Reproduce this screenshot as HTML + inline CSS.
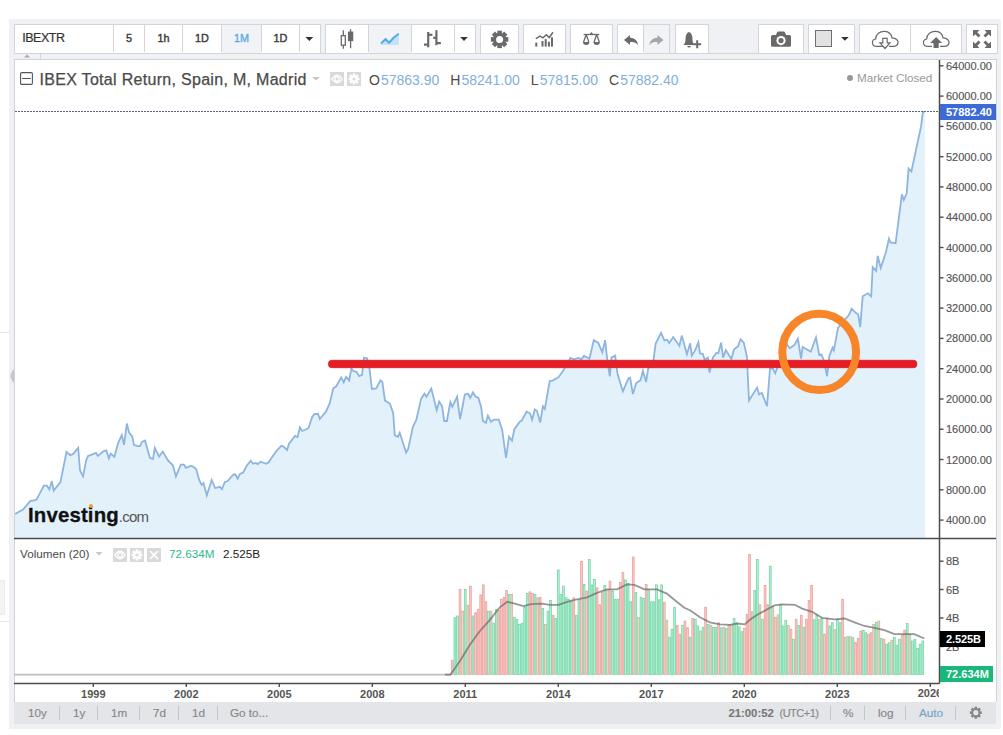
<!DOCTYPE html>
<html><head><meta charset="utf-8">
<style>
html,body{margin:0;padding:0;width:1003px;height:735px;overflow:hidden;background:#fff;font-family:"Liberation Sans",sans-serif;}
.abs{position:absolute;}
#frame{position:absolute;left:9px;top:19px;width:992px;height:710px;background:#f0f1f4;}
.btn{position:absolute;top:24px;height:28px;background:#fff;border:1px solid #d2d5da;box-sizing:content-box;}
.bi{position:absolute;top:24px;height:28px;border-left:1px solid #d2d5da;}
.tt{position:absolute;top:24px;height:29px;line-height:29px;text-align:center;font-size:10.8px;color:#3a3a3a;font-weight:normal;-webkit-text-stroke:0.4px #3a3a3a;}
#chart{position:absolute;left:14px;top:59px;width:983px;height:643px;background:#fff;border-left:1px solid #cfd2d7;border-top:1px solid #cfd2d7;border-right:1px solid #cfd2d7;box-sizing:border-box;}
.pl{position:absolute;left:946px;font-size:11px;line-height:14px;color:#555;white-space:nowrap;-webkit-text-stroke:0.15px #555;}
.yl{position:absolute;top:687px;width:40px;text-align:center;font-size:11px;line-height:14px;font-weight:bold;color:#555;}
#bottom{position:absolute;left:14px;top:702px;width:982px;height:22px;background:#e3e5e8;}
.bt{position:absolute;top:702px;height:22px;line-height:22px;font-size:11.7px;color:#878787;white-space:nowrap;-webkit-text-stroke:0.15px #878787;}
.sep{position:absolute;top:706px;width:1px;height:14px;background:#c2c5ca;}
</style></head><body>
<div id="frame"></div>

<!-- toolbar -->
<div class="btn" style="left:14px;width:305px;"></div>
<div class="abs" style="left:222px;top:25px;width:39px;height:28px;background:#f1f3f6;"></div>
<div class="bi" style="left:113px;"></div>
<div class="bi" style="left:144px;"></div>
<div class="bi" style="left:182px;"></div>
<div class="bi" style="left:221px;"></div>
<div class="bi" style="left:261px;"></div>
<div class="bi" style="left:299px;"></div>
<div class="tt" style="left:22.3px;text-align:left;font-size:12.5px;letter-spacing:-0.5px;color:#333;-webkit-text-stroke:0.2px #333;">IBEXTR</div>
<div class="tt" style="left:114px;width:30px;">5</div>
<div class="tt" style="left:145px;width:37px;">1h</div>
<div class="tt" style="left:183px;width:38px;">1D</div>
<div class="tt" style="left:222px;width:39px;color:#5aaee0;-webkit-text-stroke:0.4px #5aaee0;">1M</div>
<div class="tt" style="left:262px;width:37px;">1D</div>

<div class="btn" style="left:325px;width:149px;"></div>
<div class="abs" style="left:369px;top:25px;width:42px;height:28px;background:#f1f3f6;"></div>
<div class="bi" style="left:368px;"></div>
<div class="bi" style="left:411px;"></div>
<div class="bi" style="left:454px;"></div>

<div class="btn" style="left:480px;width:37px;"></div>
<div class="btn" style="left:523px;width:41px;"></div>
<div class="btn" style="left:570px;width:41px;"></div>
<div class="btn" style="left:617px;width:51px;"></div>
<div class="abs" style="left:644px;top:25px;width:25px;height:28px;background:#f1f3f6;"></div>
<div class="bi" style="left:643px;"></div>
<div class="btn" style="left:675px;width:32px;"></div>
<div class="btn" style="left:758px;width:44px;"></div>
<div class="btn" style="left:808px;width:45px;"></div>
<div class="abs" style="left:815px;top:30px;width:15px;height:15px;background:#e2e2e2;border:1px solid #6f6f6f;"></div>
<div class="btn" style="left:859px;width:101px;"></div>
<div class="bi" style="left:910px;"></div>
<div class="btn" style="left:966px;width:30px;"></div>

<svg class="abs" style="left:0;top:0" width="1003" height="60">
 <g fill="#333">
  <path d="M305.4,37.1 h7.8 l-3.9,4 z"/>
  <path d="M460.2,37.1 h7.6 l-3.8,3.8 z"/>
  <path d="M841.1,37 h7.6 l-3.8,3.8 z"/>
 </g>
 <!-- candles -->
 <g stroke="#6a6a6a" stroke-width="1.3" fill="none">
  <line x1="343.3" y1="30.3" x2="343.3" y2="48.7"/>
  <rect x="341.3" y="35.7" width="4" height="9.5" fill="#fff"/>
  <line x1="350.6" y1="29.2" x2="350.6" y2="48.2"/>
  <rect x="348.6" y="32.2" width="4" height="8.3" fill="#6a6a6a"/>
 </g>
 <!-- area -->
 <path d="M381,43.4 L385.6,39 L389,42.7 L394.1,37.2 L398.8,33.7 L398.8,44.9 L381,44.9 Z" fill="#c2e2f6"/>
 <path d="M381,43.4 L385.6,39 L389,42.7 L394.1,37.2 L398.8,33.7" stroke="#52ace0" stroke-width="2" fill="none" stroke-linejoin="round"/>
 <!-- bars -->
 <g stroke="#6a6a6a" stroke-width="2.2" fill="none">
  <line x1="428.2" y1="32" x2="428.2" y2="47.3"/>
  <line x1="424" y1="44.6" x2="428.2" y2="44.6"/>
  <line x1="428.2" y1="34.8" x2="432.4" y2="34.8"/>
  <line x1="436.4" y1="30.2" x2="436.4" y2="45.2"/>
  <line x1="433.2" y1="37.8" x2="436.4" y2="37.8"/>
  <line x1="436.4" y1="43.1" x2="440.9" y2="43.1"/>
 </g>
 <!-- gear -->
 <g transform="translate(499.6,39.4)" fill="#6a6a6a">
  <circle r="6.4"/>
  <rect x="-2.3" y="-8.7" width="4.6" height="4" />
  <rect x="-2.3" y="-8.7" width="4.6" height="4" transform="rotate(45)"/>
  <rect x="-2.3" y="-8.7" width="4.6" height="4" transform="rotate(90)"/>
  <rect x="-2.3" y="-8.7" width="4.6" height="4" transform="rotate(135)"/>
  <rect x="-2.3" y="-8.7" width="4.6" height="4" transform="rotate(180)"/>
  <rect x="-2.3" y="-8.7" width="4.6" height="4" transform="rotate(225)"/>
  <rect x="-2.3" y="-8.7" width="4.6" height="4" transform="rotate(270)"/>
  <rect x="-2.3" y="-8.7" width="4.6" height="4" transform="rotate(315)"/>
  <circle r="3.5" fill="#fff"/>
 </g>
 <!-- indicators -->
 <g fill="#6a6a6a">
  <rect x="535.3" y="42.6" width="2" height="4"/>
  <rect x="541.5" y="41" width="2" height="5.6"/>
  <rect x="544.7" y="39.1" width="2" height="7.5"/>
  <rect x="547.9" y="41.8" width="2" height="4.8"/>
  <rect x="551" y="37.3" width="2" height="9.3"/>
 </g>
 <path d="M535.8,38.7 L540.1,36.2 L542.9,37.8 L546.4,34.7 L549.2,37.5 L553,32.2" stroke="#6a6a6a" stroke-width="1.5" fill="none"/>
 <!-- compare scales -->
 <g stroke="#6a6a6a" stroke-width="1.3" fill="none">
  <line x1="583.6" y1="34.5" x2="599.2" y2="34.5"/>
  <path d="M586.2,34.5 L583.6,42 M586.2,34.5 L588.8,42 M596.7,34.5 L594.1,42 M596.7,34.5 L599.3,42"/>
 </g>
 <path d="M583,42 h6.4 a3.2,3 0 0 1 -6.4,0z M593.5,42 h6.4 a3.2,3 0 0 1 -6.4,0z M589.8,34 l1.6,-2 l1.6,2z" fill="#6a6a6a"/>
 <!-- undo / redo -->
 <path d="M624,40 L630,35 L630,37.8 C634.5,38 637.5,40.5 638,45 C636.2,42.5 633.8,42 630,42 L630,45 Z" fill="#6a6a6a"/>
 <path d="M663.4,40 L657.4,35 L657.4,37.8 C652.9,38 649.9,40.5 649.4,45 C651.2,42.5 653.6,42 657.4,42 L657.4,45 Z" fill="#a6a6a6"/>
 <!-- bell -->
 <path d="M683.3,45 C685.5,43 685.5,41 685.5,39 C685.5,35 687,32.5 689,32 C691,32.5 692.5,35 692.5,39 C692.5,41 692.5,43 694.8,45 Z" fill="#6a6a6a"/>
 <path d="M687.2,46 h3.6 a1.8,1.5 0 0 1 -3.6,0z" fill="#6a6a6a"/>
 <path d="M693.2,44.2 h8 M697.2,40.2 v8" stroke="#6a6a6a" stroke-width="2"/>
 <!-- camera -->
 <path d="M772.5,35 L776,35 L777,32.5 Q777.3,31.6 778.3,31.6 L783.7,31.6 Q784.7,31.6 785,32.5 L786,35 L789.5,35 Q791,35 791,36.5 L791,45.3 Q791,46.8 789.5,46.8 L772.5,46.8 Q771,46.8 771,45.3 L771,36.5 Q771,35 772.5,35 Z" fill="#6a6a6a"/>
 <circle cx="781" cy="40.6" r="4.6" fill="#fff"/><circle cx="781" cy="40.6" r="2.6" fill="#6a6a6a"/>
 <!-- cloud down -->
 <path d="M887,46.3 L876.5,46.3 C871.5,46.3 871,39.8 875.7,39 C875.7,34 880,31 884.7,31.3 C889,31.5 891.5,34.5 892,37.8 C896,37.8 898.5,40.5 898,43 C897.5,45 896,46.3 893.5,46.3 L889,46.3" fill="none" stroke="#6a6a6a" stroke-width="1.2"/>
 <path d="M882.8,38.3 h4.4 v4.6 h2.8 l-5,5.6 l-5,-5.6 h2.8 z" fill="#fff" stroke="#6a6a6a" stroke-width="1.2"/>
 <!-- cloud up -->
 <path d="M932,46.3 L927.5,46.3 C922.5,46.3 922,39.8 926.7,39 C926.7,34 931,31 935.7,31.3 C940,31.5 942.5,34.5 943,37.8 C947,37.8 949.5,40.5 949,43 C948.5,45 947,46.3 944.5,46.3 L940,46.3" fill="none" stroke="#6a6a6a" stroke-width="1.2"/>
 <path d="M933.5,48 v-5 h-3.4 l6,-6 l6,6 h-3.4 v5 z" fill="#6a6a6a"/>
 <!-- fullscreen -->
 <g fill="#6a6a6a">
  <path d="M973,30 h6.5 l-2.2,2.2 l3.2,3.2 l-2,2 l-3.2,-3.2 l-2.3,2.3 z"/>
  <path d="M991,30 h-6.5 l2.2,2.2 l-3.2,3.2 l2,2 l3.2,-3.2 l2.3,2.3 z"/>
  <path d="M973,48 h6.5 l-2.2,-2.2 l3.2,-3.2 l-2,-2 l-3.2,3.2 l-2.3,-2.3 z"/>
  <path d="M991,48 h-6.5 l2.2,-2.2 l-3.2,-3.2 l2,-2 l3.2,3.2 l2.3,-2.3 z"/>
 </g>
</svg>

<!-- small tab under toolbar -->
<div class="abs" style="left:14px;top:53px;width:982px;height:1px;background:#d2d5da;"></div>
<div class="abs" style="left:40px;top:53px;width:1px;height:6px;background:#d2d5da;"></div>
<svg class="abs" style="left:14px;top:53px" width="26" height="6"><path d="M10,4.5 l3,-3 l3,3z" fill="#a8aaad"/></svg>
<div class="abs" style="left:0;top:332px;width:9px;height:1px;background:#e6e6e6;"></div>
<div class="abs" style="left:0;top:580px;width:4px;height:33px;background:#f3f3f3;border:1px solid #ececec;border-left:none;"></div>
<div class="abs" style="left:0;top:621px;width:9px;height:1px;background:#e6e6e6;"></div>
<svg class="abs" style="left:9px;top:368px" width="6" height="16"><path d="M5,1 C2,4 1.5,7 1.5,8 C1.5,9 2,12 5,15 z" fill="#c8c8c8"/></svg>
<!-- chart -->
<div id="chart"></div>
<svg class="abs" style="left:0;top:0" width="1003" height="735">
 <defs><clipPath id="mainclip"><rect x="15" y="60" width="924" height="478"/></clipPath></defs>
 <!-- price area -->
 <g clip-path="url(#mainclip)">
  <path d="M15.1,513.9 L23,509.6 L30.4,500.8 L34.1,500.4 L36.5,499.6 L43.9,485.7 L46.9,485.7 L49.4,489.4 L51.8,481.2 L53.7,490.6 L60.4,482.1 L66.5,452 L70.2,455.1 L73.3,453.9 L78.2,447.8 L80,470.4 L83.1,476.3 L86.1,460.6 L88.1,455.9 L92.4,454.3 L96,452.9 L97.9,455.9 L103.4,451.4 L106.4,450.4 L108.9,458.4 L110.7,453.5 L114.4,456.8 L118.1,443.1 L121.8,435.1 L124,444.9 L126.9,423.5 L129.1,432.7 L132.2,436.3 L134,444.9 L137.7,446.1 L140.1,446.1 L142,441.9 L145,440.6 L149.9,457.8 L153,459 L154.8,448 L159.1,456.6 L162.7,451.6 L168,460.4 L172.9,465.3 L175.9,476.4 L180.8,464.7 L183.9,464.7 L186,467.8 L190.6,465.9 L193.1,466.6 L196.1,469 L199.2,480 L201.7,484.9 L203.5,483.1 L206.8,495.3 L211.7,480 L215.1,488 L220,486.8 L221.9,489.2 L224.9,481.9 L227.4,481.3 L233.5,474.5 L235.3,474.5 L237.7,478.8 L239.9,473.9 L243,472.7 L246.6,466 L250.7,460.8 L253.1,463.8 L255.8,462.9 L257.7,464.1 L260.7,461.7 L266.2,463.8 L268.7,462.3 L271.8,457.4 L276.7,450.6 L281.6,445.7 L284,447 L287.1,450 L288.9,443.9 L295,435.9 L297.5,437.2 L299.9,427.4 L302.1,431 L305.4,429.8 L308.5,428 L312.2,417 L314.3,414.1 L318,413.8 L319.8,419 L325.9,411.7 L329.6,403.7 L333.3,388.4 L336.3,386.3 L341.2,377.4 L343.7,382.3 L346.1,376.8 L349.2,380.4 L351.4,368.4 L353.5,371.2 L356.6,371.9 L359,376.1 L362.1,374.9 L363.9,357.8 L367,358.4 L369.4,367.6 L371.9,389 L376.2,388.4 L380.4,380.4 L382.3,381.7 L385,400.6 L389.8,403.5 L393.2,413.1 L394.8,435.5 L397.9,436.9 L399.7,432.8 L406.1,452.5 L408.1,449.1 L412.9,426.7 L416.3,419.9 L421.1,398.8 L424.5,393.7 L426.5,396.7 L431.3,388.6 L436.7,410.3 L439.1,401.5 L442.1,406.3 L444.2,421 L446.9,421 L450.3,402.2 L452.3,406.9 L457.1,396.7 L460.1,419.2 L464.8,394.5 L468.2,393.8 L470.2,397.9 L472.9,392.4 L475.6,396.5 L478.4,397.9 L481.1,406.7 L482.9,421 L485.9,422.8 L487.9,415.6 L491,421.7 L494,419.7 L498.8,419.7 L502.2,429.9 L506,457.8 L509,436.7 L512,440.7 L514.4,429.2 L519.2,422.4 L521.9,420.3 L526.7,411.5 L530.1,413.5 L532.1,419.7 L534.8,409.5 L537,411 L540.2,422.5 L542.9,406.2 L544.8,408.9 L549.7,381 L552.7,380.6 L558.8,376.9 L563.6,370.1 L570.4,357.9 L573.8,359.3 L578.5,357.9 L581.3,359.3 L584,355.9 L589.4,358.6 L593.8,340.2 L598.3,342.9 L602.3,352.4 L605.1,340.2 L607.1,358.6 L609.8,376.3 L611.6,357.4 L615.2,355.6 L617.5,373.7 L622.9,391.4 L628.4,378.5 L630.1,377.8 L632.9,394.1 L636.1,383.3 L640.6,379.9 L642.9,371 L646.1,381.9 L648.1,369 L653.5,360.1 L655.6,343.8 L661,332.9 L664.4,340.4 L667.1,339.7 L669.2,343.1 L673.3,337 L679.4,345.9 L681.8,335.6 L686.9,354.2 L690.2,343.3 L691.8,355.6 L695.2,350.1 L698.3,342.4 L700,353.5 L702.7,353.8 L704.7,359.7 L707.9,357.6 L709.5,372.6 L712.9,357.6 L716.3,352.9 L718.3,353.3 L721.1,342.7 L723.1,357.6 L725.8,350.1 L731.3,359 L734,349.2 L738.1,346.1 L740.5,339.3 L743.8,342.7 L746.9,356.3 L749,400.5 L757.1,387.6 L759.1,394.4 L761.9,393 L767,406.2 L770,368.8 L772.6,368 L775.2,373.3 L777.4,367.3 L781,358 L784,350 L787,344.2 L789.7,348.3 L794.5,344.9 L797.9,338.8 L801,358.5 L802.7,346.9 L810.8,351.7 L816,337.4 L819.3,355.1 L821.4,354.4 L823.7,359.9 L827.1,376.2 L829.2,356.5 L832.6,347.6 L833.9,350.3 L838,327.9 L840.7,324.5 L848.9,315 L851.6,308.8 L856,313.1 L858.2,314.3 L860.2,327 L862.7,296.3 L868,293.3 L871.2,296.3 L872.7,267.1 L876.2,270.9 L877.7,255.9 L880.7,267.9 L885.9,252.2 L888.9,238.7 L890.4,242.4 L895.6,243.2 L901.9,194.3 L903.8,200 L906.7,193.3 L908.6,168.6 L911.4,171.4 L921,126.7 L922.9,111.8 L924.8,111.8 L924.8,538 L14,538 Z" fill="#e3f1fb"/>
  <path d="M15.1,513.9 L23,509.6 L30.4,500.8 L34.1,500.4 L36.5,499.6 L43.9,485.7 L46.9,485.7 L49.4,489.4 L51.8,481.2 L53.7,490.6 L60.4,482.1 L66.5,452 L70.2,455.1 L73.3,453.9 L78.2,447.8 L80,470.4 L83.1,476.3 L86.1,460.6 L88.1,455.9 L92.4,454.3 L96,452.9 L97.9,455.9 L103.4,451.4 L106.4,450.4 L108.9,458.4 L110.7,453.5 L114.4,456.8 L118.1,443.1 L121.8,435.1 L124,444.9 L126.9,423.5 L129.1,432.7 L132.2,436.3 L134,444.9 L137.7,446.1 L140.1,446.1 L142,441.9 L145,440.6 L149.9,457.8 L153,459 L154.8,448 L159.1,456.6 L162.7,451.6 L168,460.4 L172.9,465.3 L175.9,476.4 L180.8,464.7 L183.9,464.7 L186,467.8 L190.6,465.9 L193.1,466.6 L196.1,469 L199.2,480 L201.7,484.9 L203.5,483.1 L206.8,495.3 L211.7,480 L215.1,488 L220,486.8 L221.9,489.2 L224.9,481.9 L227.4,481.3 L233.5,474.5 L235.3,474.5 L237.7,478.8 L239.9,473.9 L243,472.7 L246.6,466 L250.7,460.8 L253.1,463.8 L255.8,462.9 L257.7,464.1 L260.7,461.7 L266.2,463.8 L268.7,462.3 L271.8,457.4 L276.7,450.6 L281.6,445.7 L284,447 L287.1,450 L288.9,443.9 L295,435.9 L297.5,437.2 L299.9,427.4 L302.1,431 L305.4,429.8 L308.5,428 L312.2,417 L314.3,414.1 L318,413.8 L319.8,419 L325.9,411.7 L329.6,403.7 L333.3,388.4 L336.3,386.3 L341.2,377.4 L343.7,382.3 L346.1,376.8 L349.2,380.4 L351.4,368.4 L353.5,371.2 L356.6,371.9 L359,376.1 L362.1,374.9 L363.9,357.8 L367,358.4 L369.4,367.6 L371.9,389 L376.2,388.4 L380.4,380.4 L382.3,381.7 L385,400.6 L389.8,403.5 L393.2,413.1 L394.8,435.5 L397.9,436.9 L399.7,432.8 L406.1,452.5 L408.1,449.1 L412.9,426.7 L416.3,419.9 L421.1,398.8 L424.5,393.7 L426.5,396.7 L431.3,388.6 L436.7,410.3 L439.1,401.5 L442.1,406.3 L444.2,421 L446.9,421 L450.3,402.2 L452.3,406.9 L457.1,396.7 L460.1,419.2 L464.8,394.5 L468.2,393.8 L470.2,397.9 L472.9,392.4 L475.6,396.5 L478.4,397.9 L481.1,406.7 L482.9,421 L485.9,422.8 L487.9,415.6 L491,421.7 L494,419.7 L498.8,419.7 L502.2,429.9 L506,457.8 L509,436.7 L512,440.7 L514.4,429.2 L519.2,422.4 L521.9,420.3 L526.7,411.5 L530.1,413.5 L532.1,419.7 L534.8,409.5 L537,411 L540.2,422.5 L542.9,406.2 L544.8,408.9 L549.7,381 L552.7,380.6 L558.8,376.9 L563.6,370.1 L570.4,357.9 L573.8,359.3 L578.5,357.9 L581.3,359.3 L584,355.9 L589.4,358.6 L593.8,340.2 L598.3,342.9 L602.3,352.4 L605.1,340.2 L607.1,358.6 L609.8,376.3 L611.6,357.4 L615.2,355.6 L617.5,373.7 L622.9,391.4 L628.4,378.5 L630.1,377.8 L632.9,394.1 L636.1,383.3 L640.6,379.9 L642.9,371 L646.1,381.9 L648.1,369 L653.5,360.1 L655.6,343.8 L661,332.9 L664.4,340.4 L667.1,339.7 L669.2,343.1 L673.3,337 L679.4,345.9 L681.8,335.6 L686.9,354.2 L690.2,343.3 L691.8,355.6 L695.2,350.1 L698.3,342.4 L700,353.5 L702.7,353.8 L704.7,359.7 L707.9,357.6 L709.5,372.6 L712.9,357.6 L716.3,352.9 L718.3,353.3 L721.1,342.7 L723.1,357.6 L725.8,350.1 L731.3,359 L734,349.2 L738.1,346.1 L740.5,339.3 L743.8,342.7 L746.9,356.3 L749,400.5 L757.1,387.6 L759.1,394.4 L761.9,393 L767,406.2 L770,368.8 L772.6,368 L775.2,373.3 L777.4,367.3 L781,358 L784,350 L787,344.2 L789.7,348.3 L794.5,344.9 L797.9,338.8 L801,358.5 L802.7,346.9 L810.8,351.7 L816,337.4 L819.3,355.1 L821.4,354.4 L823.7,359.9 L827.1,376.2 L829.2,356.5 L832.6,347.6 L833.9,350.3 L838,327.9 L840.7,324.5 L848.9,315 L851.6,308.8 L856,313.1 L858.2,314.3 L860.2,327 L862.7,296.3 L868,293.3 L871.2,296.3 L872.7,267.1 L876.2,270.9 L877.7,255.9 L880.7,267.9 L885.9,252.2 L888.9,238.7 L890.4,242.4 L895.6,243.2 L901.9,194.3 L903.8,200 L906.7,193.3 L908.6,168.6 L911.4,171.4 L921,126.7 L922.9,111.8 L924.8,111.8" fill="none" stroke="#8db5e0" stroke-width="1.8" stroke-linejoin="miter"/>
 </g>
 <!-- dotted last price -->
 <line x1="15" y1="111.5" x2="939" y2="111.5" stroke="#56647e" stroke-width="1" stroke-dasharray="2,1"/>
 <!-- red horizontal -->
 <rect x="328.5" y="360.3" width="588.3" height="7.4" rx="3.3" fill="#e81c25" stroke="#cf1a22" stroke-width="0.8"/>
 <!-- orange circle -->
 <ellipse cx="819.2" cy="351.9" rx="36.9" ry="38.2" fill="none" stroke="#f7852a" stroke-width="8"/>
 <!-- volume -->
 <g>
 <rect x="451.40" y="660.2" width="1.8" height="14.4" fill="#fdc8c4" stroke="#e9a09b" stroke-width="0.75"/>
<rect x="453.98" y="617.8" width="1.8" height="56.8" fill="#acf5d2" stroke="#76d2a6" stroke-width="0.75"/>
<rect x="456.57" y="616" width="1.8" height="58.6" fill="#acf5d2" stroke="#76d2a6" stroke-width="0.75"/>
<rect x="459.15" y="589.4" width="1.8" height="85.2" fill="#fdc8c4" stroke="#e9a09b" stroke-width="0.75"/>
<rect x="461.74" y="611.1" width="1.8" height="63.5" fill="#e6dcc6" stroke="#c4b79c" stroke-width="0.75"/>
<rect x="464.32" y="589.4" width="1.8" height="85.2" fill="#acf5d2" stroke="#76d2a6" stroke-width="0.75"/>
<rect x="466.91" y="605.3" width="1.8" height="69.3" fill="#e6dcc6" stroke="#c4b79c" stroke-width="0.75"/>
<rect x="469.50" y="586.1" width="1.8" height="88.5" fill="#fdc8c4" stroke="#e9a09b" stroke-width="0.75"/>
<rect x="472.08" y="616" width="1.8" height="58.6" fill="#acf5d2" stroke="#76d2a6" stroke-width="0.75"/>
<rect x="474.66" y="612.8" width="1.8" height="61.8" fill="#fdc8c4" stroke="#e9a09b" stroke-width="0.75"/>
<rect x="477.25" y="609.3" width="1.8" height="65.3" fill="#fdc8c4" stroke="#e9a09b" stroke-width="0.75"/>
<rect x="479.83" y="594.9" width="1.8" height="79.7" fill="#fdc8c4" stroke="#e9a09b" stroke-width="0.75"/>
<rect x="482.42" y="584.9" width="1.8" height="89.7" fill="#fdc8c4" stroke="#e9a09b" stroke-width="0.75"/>
<rect x="485.00" y="601.8" width="1.8" height="72.8" fill="#fdc8c4" stroke="#e9a09b" stroke-width="0.75"/>
<rect x="487.59" y="611.1" width="1.8" height="63.5" fill="#acf5d2" stroke="#76d2a6" stroke-width="0.75"/>
<rect x="490.17" y="611.1" width="1.8" height="63.5" fill="#e6dcc6" stroke="#c4b79c" stroke-width="0.75"/>
<rect x="492.76" y="623.5" width="1.8" height="51.1" fill="#acf5d2" stroke="#76d2a6" stroke-width="0.75"/>
<rect x="495.34" y="609.3" width="1.8" height="65.3" fill="#acf5d2" stroke="#76d2a6" stroke-width="0.75"/>
<rect x="497.93" y="610.3" width="1.8" height="64.3" fill="#fdc8c4" stroke="#e9a09b" stroke-width="0.75"/>
<rect x="500.51" y="599.3" width="1.8" height="75.3" fill="#fdc8c4" stroke="#e9a09b" stroke-width="0.75"/>
<rect x="503.10" y="597.3" width="1.8" height="77.3" fill="#fdc8c4" stroke="#e9a09b" stroke-width="0.75"/>
<rect x="505.68" y="590.4" width="1.8" height="84.2" fill="#fdc8c4" stroke="#e9a09b" stroke-width="0.75"/>
<rect x="508.27" y="594.4" width="1.8" height="80.2" fill="#acf5d2" stroke="#76d2a6" stroke-width="0.75"/>
<rect x="510.85" y="594.4" width="1.8" height="80.2" fill="#e6dcc6" stroke="#c4b79c" stroke-width="0.75"/>
<rect x="513.44" y="617.3" width="1.8" height="57.3" fill="#acf5d2" stroke="#76d2a6" stroke-width="0.75"/>
<rect x="516.02" y="619.3" width="1.8" height="55.3" fill="#acf5d2" stroke="#76d2a6" stroke-width="0.75"/>
<rect x="518.61" y="624.3" width="1.8" height="50.3" fill="#acf5d2" stroke="#76d2a6" stroke-width="0.75"/>
<rect x="521.19" y="623.5" width="1.8" height="51.1" fill="#acf5d2" stroke="#76d2a6" stroke-width="0.75"/>
<rect x="523.78" y="606.8" width="1.8" height="67.8" fill="#acf5d2" stroke="#76d2a6" stroke-width="0.75"/>
<rect x="526.37" y="593.6" width="1.8" height="81" fill="#acf5d2" stroke="#76d2a6" stroke-width="0.75"/>
<rect x="528.95" y="591.9" width="1.8" height="82.7" fill="#fdc8c4" stroke="#e9a09b" stroke-width="0.75"/>
<rect x="531.53" y="593.6" width="1.8" height="81" fill="#fdc8c4" stroke="#e9a09b" stroke-width="0.75"/>
<rect x="534.12" y="594.4" width="1.8" height="80.2" fill="#acf5d2" stroke="#76d2a6" stroke-width="0.75"/>
<rect x="536.70" y="597.8" width="1.8" height="76.8" fill="#e6dcc6" stroke="#c4b79c" stroke-width="0.75"/>
<rect x="539.29" y="597.3" width="1.8" height="77.3" fill="#fdc8c4" stroke="#e9a09b" stroke-width="0.75"/>
<rect x="541.88" y="608.6" width="1.8" height="66" fill="#acf5d2" stroke="#76d2a6" stroke-width="0.75"/>
<rect x="544.46" y="624.3" width="1.8" height="50.3" fill="#e6dcc6" stroke="#c4b79c" stroke-width="0.75"/>
<rect x="547.04" y="611.1" width="1.8" height="63.5" fill="#acf5d2" stroke="#76d2a6" stroke-width="0.75"/>
<rect x="549.63" y="600.3" width="1.8" height="74.3" fill="#acf5d2" stroke="#76d2a6" stroke-width="0.75"/>
<rect x="552.22" y="615.3" width="1.8" height="59.3" fill="#fdc8c4" stroke="#e9a09b" stroke-width="0.75"/>
<rect x="554.80" y="618.5" width="1.8" height="56.1" fill="#acf5d2" stroke="#76d2a6" stroke-width="0.75"/>
<rect x="557.38" y="569.9" width="1.8" height="104.7" fill="#acf5d2" stroke="#76d2a6" stroke-width="0.75"/>
<rect x="559.97" y="594.4" width="1.8" height="80.2" fill="#acf5d2" stroke="#76d2a6" stroke-width="0.75"/>
<rect x="562.55" y="586.1" width="1.8" height="88.5" fill="#acf5d2" stroke="#76d2a6" stroke-width="0.75"/>
<rect x="565.14" y="597.8" width="1.8" height="76.8" fill="#acf5d2" stroke="#76d2a6" stroke-width="0.75"/>
<rect x="567.73" y="599.3" width="1.8" height="75.3" fill="#acf5d2" stroke="#76d2a6" stroke-width="0.75"/>
<rect x="570.31" y="601.1" width="1.8" height="73.5" fill="#acf5d2" stroke="#76d2a6" stroke-width="0.75"/>
<rect x="572.89" y="597.8" width="1.8" height="76.8" fill="#fdc8c4" stroke="#e9a09b" stroke-width="0.75"/>
<rect x="575.48" y="615.3" width="1.8" height="59.3" fill="#acf5d2" stroke="#76d2a6" stroke-width="0.75"/>
<rect x="578.06" y="599.8" width="1.8" height="74.8" fill="#acf5d2" stroke="#76d2a6" stroke-width="0.75"/>
<rect x="580.65" y="561.2" width="1.8" height="113.4" fill="#fdc8c4" stroke="#e9a09b" stroke-width="0.75"/>
<rect x="583.24" y="584.4" width="1.8" height="90.2" fill="#acf5d2" stroke="#76d2a6" stroke-width="0.75"/>
<rect x="585.82" y="591.1" width="1.8" height="83.5" fill="#fdc8c4" stroke="#e9a09b" stroke-width="0.75"/>
<rect x="588.40" y="559.5" width="1.8" height="115.1" fill="#acf5d2" stroke="#76d2a6" stroke-width="0.75"/>
<rect x="590.99" y="584.9" width="1.8" height="89.7" fill="#acf5d2" stroke="#76d2a6" stroke-width="0.75"/>
<rect x="593.57" y="579.4" width="1.8" height="95.2" fill="#acf5d2" stroke="#76d2a6" stroke-width="0.75"/>
<rect x="596.16" y="587.9" width="1.8" height="86.7" fill="#fdc8c4" stroke="#e9a09b" stroke-width="0.75"/>
<rect x="598.75" y="604.8" width="1.8" height="69.8" fill="#fdc8c4" stroke="#e9a09b" stroke-width="0.75"/>
<rect x="601.33" y="592.4" width="1.8" height="82.2" fill="#fdc8c4" stroke="#e9a09b" stroke-width="0.75"/>
<rect x="603.91" y="585.4" width="1.8" height="89.2" fill="#acf5d2" stroke="#76d2a6" stroke-width="0.75"/>
<rect x="606.50" y="589.9" width="1.8" height="84.7" fill="#e6dcc6" stroke="#c4b79c" stroke-width="0.75"/>
<rect x="609.08" y="581.1" width="1.8" height="93.5" fill="#fdc8c4" stroke="#e9a09b" stroke-width="0.75"/>
<rect x="611.67" y="591.1" width="1.8" height="83.5" fill="#acf5d2" stroke="#76d2a6" stroke-width="0.75"/>
<rect x="614.25" y="599.3" width="1.8" height="75.3" fill="#acf5d2" stroke="#76d2a6" stroke-width="0.75"/>
<rect x="616.84" y="599.3" width="1.8" height="75.3" fill="#acf5d2" stroke="#76d2a6" stroke-width="0.75"/>
<rect x="619.42" y="582.4" width="1.8" height="92.2" fill="#fdc8c4" stroke="#e9a09b" stroke-width="0.75"/>
<rect x="622.01" y="572.4" width="1.8" height="102.2" fill="#fdc8c4" stroke="#e9a09b" stroke-width="0.75"/>
<rect x="624.59" y="579.9" width="1.8" height="94.7" fill="#acf5d2" stroke="#76d2a6" stroke-width="0.75"/>
<rect x="627.18" y="583.6" width="1.8" height="91" fill="#acf5d2" stroke="#76d2a6" stroke-width="0.75"/>
<rect x="629.76" y="601.8" width="1.8" height="72.8" fill="#acf5d2" stroke="#76d2a6" stroke-width="0.75"/>
<rect x="632.35" y="557" width="1.8" height="117.6" fill="#fdc8c4" stroke="#e9a09b" stroke-width="0.75"/>
<rect x="634.93" y="592.4" width="1.8" height="82.2" fill="#acf5d2" stroke="#76d2a6" stroke-width="0.75"/>
<rect x="637.52" y="617.3" width="1.8" height="57.3" fill="#e6dcc6" stroke="#c4b79c" stroke-width="0.75"/>
<rect x="640.10" y="597.3" width="1.8" height="77.3" fill="#acf5d2" stroke="#76d2a6" stroke-width="0.75"/>
<rect x="642.69" y="598.6" width="1.8" height="76" fill="#acf5d2" stroke="#76d2a6" stroke-width="0.75"/>
<rect x="645.27" y="584.4" width="1.8" height="90.2" fill="#fdc8c4" stroke="#e9a09b" stroke-width="0.75"/>
<rect x="647.86" y="589.9" width="1.8" height="84.7" fill="#acf5d2" stroke="#76d2a6" stroke-width="0.75"/>
<rect x="650.44" y="601.8" width="1.8" height="72.8" fill="#acf5d2" stroke="#76d2a6" stroke-width="0.75"/>
<rect x="653.03" y="601.8" width="1.8" height="72.8" fill="#acf5d2" stroke="#76d2a6" stroke-width="0.75"/>
<rect x="655.62" y="584.9" width="1.8" height="89.7" fill="#acf5d2" stroke="#76d2a6" stroke-width="0.75"/>
<rect x="658.20" y="599.8" width="1.8" height="74.8" fill="#acf5d2" stroke="#76d2a6" stroke-width="0.75"/>
<rect x="660.78" y="584.9" width="1.8" height="89.7" fill="#acf5d2" stroke="#76d2a6" stroke-width="0.75"/>
<rect x="663.37" y="602.3" width="1.8" height="72.3" fill="#fdc8c4" stroke="#e9a09b" stroke-width="0.75"/>
<rect x="665.96" y="620.3" width="1.8" height="54.3" fill="#e6dcc6" stroke="#c4b79c" stroke-width="0.75"/>
<rect x="668.54" y="637.2" width="1.8" height="37.4" fill="#acf5d2" stroke="#76d2a6" stroke-width="0.75"/>
<rect x="671.12" y="629.2" width="1.8" height="45.4" fill="#acf5d2" stroke="#76d2a6" stroke-width="0.75"/>
<rect x="673.71" y="607.3" width="1.8" height="67.3" fill="#acf5d2" stroke="#76d2a6" stroke-width="0.75"/>
<rect x="676.29" y="625.3" width="1.8" height="49.3" fill="#fdc8c4" stroke="#e9a09b" stroke-width="0.75"/>
<rect x="678.88" y="634.2" width="1.8" height="40.4" fill="#fdc8c4" stroke="#e9a09b" stroke-width="0.75"/>
<rect x="681.47" y="625.3" width="1.8" height="49.3" fill="#acf5d2" stroke="#76d2a6" stroke-width="0.75"/>
<rect x="684.05" y="621" width="1.8" height="53.6" fill="#fdc8c4" stroke="#e9a09b" stroke-width="0.75"/>
<rect x="686.63" y="627.8" width="1.8" height="46.8" fill="#fdc8c4" stroke="#e9a09b" stroke-width="0.75"/>
<rect x="689.22" y="637.2" width="1.8" height="37.4" fill="#acf5d2" stroke="#76d2a6" stroke-width="0.75"/>
<rect x="691.80" y="618.5" width="1.8" height="56.1" fill="#fdc8c4" stroke="#e9a09b" stroke-width="0.75"/>
<rect x="694.39" y="619.3" width="1.8" height="55.3" fill="#acf5d2" stroke="#76d2a6" stroke-width="0.75"/>
<rect x="696.98" y="626" width="1.8" height="48.6" fill="#acf5d2" stroke="#76d2a6" stroke-width="0.75"/>
<rect x="699.56" y="631" width="1.8" height="43.6" fill="#e6dcc6" stroke="#c4b79c" stroke-width="0.75"/>
<rect x="702.14" y="627.3" width="1.8" height="47.3" fill="#acf5d2" stroke="#76d2a6" stroke-width="0.75"/>
<rect x="704.73" y="607.3" width="1.8" height="67.3" fill="#fdc8c4" stroke="#e9a09b" stroke-width="0.75"/>
<rect x="707.31" y="624.3" width="1.8" height="50.3" fill="#acf5d2" stroke="#76d2a6" stroke-width="0.75"/>
<rect x="709.90" y="625.3" width="1.8" height="49.3" fill="#e6dcc6" stroke="#c4b79c" stroke-width="0.75"/>
<rect x="712.49" y="627.3" width="1.8" height="47.3" fill="#acf5d2" stroke="#76d2a6" stroke-width="0.75"/>
<rect x="715.07" y="627.3" width="1.8" height="47.3" fill="#acf5d2" stroke="#76d2a6" stroke-width="0.75"/>
<rect x="717.65" y="622.8" width="1.8" height="51.8" fill="#fdc8c4" stroke="#e9a09b" stroke-width="0.75"/>
<rect x="720.24" y="627.8" width="1.8" height="46.8" fill="#acf5d2" stroke="#76d2a6" stroke-width="0.75"/>
<rect x="722.82" y="627.3" width="1.8" height="47.3" fill="#e6dcc6" stroke="#c4b79c" stroke-width="0.75"/>
<rect x="725.41" y="628.5" width="1.8" height="46.1" fill="#acf5d2" stroke="#76d2a6" stroke-width="0.75"/>
<rect x="728.00" y="624.8" width="1.8" height="49.8" fill="#fdc8c4" stroke="#e9a09b" stroke-width="0.75"/>
<rect x="730.58" y="624.3" width="1.8" height="50.3" fill="#e6dcc6" stroke="#c4b79c" stroke-width="0.75"/>
<rect x="733.16" y="618.5" width="1.8" height="56.1" fill="#acf5d2" stroke="#76d2a6" stroke-width="0.75"/>
<rect x="735.75" y="622.8" width="1.8" height="51.8" fill="#acf5d2" stroke="#76d2a6" stroke-width="0.75"/>
<rect x="738.33" y="626.8" width="1.8" height="47.8" fill="#acf5d2" stroke="#76d2a6" stroke-width="0.75"/>
<rect x="740.92" y="631.7" width="1.8" height="42.9" fill="#acf5d2" stroke="#76d2a6" stroke-width="0.75"/>
<rect x="743.50" y="628.5" width="1.8" height="46.1" fill="#fdc8c4" stroke="#e9a09b" stroke-width="0.75"/>
<rect x="746.09" y="614.3" width="1.8" height="60.3" fill="#fdc8c4" stroke="#e9a09b" stroke-width="0.75"/>
<rect x="748.67" y="554.5" width="1.8" height="120.1" fill="#fdc8c4" stroke="#e9a09b" stroke-width="0.75"/>
<rect x="751.26" y="611.8" width="1.8" height="62.8" fill="#e6dcc6" stroke="#c4b79c" stroke-width="0.75"/>
<rect x="753.84" y="590.4" width="1.8" height="84.2" fill="#acf5d2" stroke="#76d2a6" stroke-width="0.75"/>
<rect x="756.43" y="559.5" width="1.8" height="115.1" fill="#acf5d2" stroke="#76d2a6" stroke-width="0.75"/>
<rect x="759.01" y="604.8" width="1.8" height="69.8" fill="#e6dcc6" stroke="#c4b79c" stroke-width="0.75"/>
<rect x="761.60" y="619.3" width="1.8" height="55.3" fill="#acf5d2" stroke="#76d2a6" stroke-width="0.75"/>
<rect x="764.18" y="585.4" width="1.8" height="89.2" fill="#fdc8c4" stroke="#e9a09b" stroke-width="0.75"/>
<rect x="766.77" y="604.8" width="1.8" height="69.8" fill="#fdc8c4" stroke="#e9a09b" stroke-width="0.75"/>
<rect x="769.35" y="566.2" width="1.8" height="108.4" fill="#acf5d2" stroke="#76d2a6" stroke-width="0.75"/>
<rect x="771.94" y="606.1" width="1.8" height="68.5" fill="#e6dcc6" stroke="#c4b79c" stroke-width="0.75"/>
<rect x="774.52" y="617.3" width="1.8" height="57.3" fill="#fdc8c4" stroke="#e9a09b" stroke-width="0.75"/>
<rect x="777.11" y="614.8" width="1.8" height="59.8" fill="#e6dcc6" stroke="#c4b79c" stroke-width="0.75"/>
<rect x="779.70" y="604.3" width="1.8" height="70.3" fill="#acf5d2" stroke="#76d2a6" stroke-width="0.75"/>
<rect x="782.28" y="626" width="1.8" height="48.6" fill="#acf5d2" stroke="#76d2a6" stroke-width="0.75"/>
<rect x="784.86" y="620.3" width="1.8" height="54.3" fill="#acf5d2" stroke="#76d2a6" stroke-width="0.75"/>
<rect x="787.45" y="625.3" width="1.8" height="49.3" fill="#e6dcc6" stroke="#c4b79c" stroke-width="0.75"/>
<rect x="790.03" y="629.2" width="1.8" height="45.4" fill="#fdc8c4" stroke="#e9a09b" stroke-width="0.75"/>
<rect x="792.62" y="639.2" width="1.8" height="35.4" fill="#acf5d2" stroke="#76d2a6" stroke-width="0.75"/>
<rect x="795.21" y="619.3" width="1.8" height="55.3" fill="#fdc8c4" stroke="#e9a09b" stroke-width="0.75"/>
<rect x="797.79" y="625.3" width="1.8" height="49.3" fill="#acf5d2" stroke="#76d2a6" stroke-width="0.75"/>
<rect x="800.38" y="615.3" width="1.8" height="59.3" fill="#fdc8c4" stroke="#e9a09b" stroke-width="0.75"/>
<rect x="802.96" y="627.3" width="1.8" height="47.3" fill="#acf5d2" stroke="#76d2a6" stroke-width="0.75"/>
<rect x="805.54" y="619.3" width="1.8" height="55.3" fill="#fdc8c4" stroke="#e9a09b" stroke-width="0.75"/>
<rect x="808.13" y="600.3" width="1.8" height="74.3" fill="#fdc8c4" stroke="#e9a09b" stroke-width="0.75"/>
<rect x="810.72" y="585.4" width="1.8" height="89.2" fill="#fdc8c4" stroke="#e9a09b" stroke-width="0.75"/>
<rect x="813.30" y="619.8" width="1.8" height="54.8" fill="#acf5d2" stroke="#76d2a6" stroke-width="0.75"/>
<rect x="815.88" y="614.8" width="1.8" height="59.8" fill="#acf5d2" stroke="#76d2a6" stroke-width="0.75"/>
<rect x="818.47" y="619.3" width="1.8" height="55.3" fill="#e6dcc6" stroke="#c4b79c" stroke-width="0.75"/>
<rect x="821.05" y="618.5" width="1.8" height="56.1" fill="#acf5d2" stroke="#76d2a6" stroke-width="0.75"/>
<rect x="823.64" y="634.2" width="1.8" height="40.4" fill="#fdc8c4" stroke="#e9a09b" stroke-width="0.75"/>
<rect x="826.23" y="618.5" width="1.8" height="56.1" fill="#fdc8c4" stroke="#e9a09b" stroke-width="0.75"/>
<rect x="828.81" y="626" width="1.8" height="48.6" fill="#acf5d2" stroke="#76d2a6" stroke-width="0.75"/>
<rect x="831.39" y="622.8" width="1.8" height="51.8" fill="#acf5d2" stroke="#76d2a6" stroke-width="0.75"/>
<rect x="833.98" y="629.7" width="1.8" height="44.9" fill="#e6dcc6" stroke="#c4b79c" stroke-width="0.75"/>
<rect x="836.56" y="619.3" width="1.8" height="55.3" fill="#acf5d2" stroke="#76d2a6" stroke-width="0.75"/>
<rect x="839.15" y="622.8" width="1.8" height="51.8" fill="#acf5d2" stroke="#76d2a6" stroke-width="0.75"/>
<rect x="841.74" y="599.3" width="1.8" height="75.3" fill="#fdc8c4" stroke="#e9a09b" stroke-width="0.75"/>
<rect x="844.32" y="637.2" width="1.8" height="37.4" fill="#e6dcc6" stroke="#c4b79c" stroke-width="0.75"/>
<rect x="846.90" y="636.7" width="1.8" height="37.9" fill="#acf5d2" stroke="#76d2a6" stroke-width="0.75"/>
<rect x="849.49" y="636.7" width="1.8" height="37.9" fill="#e6dcc6" stroke="#c4b79c" stroke-width="0.75"/>
<rect x="852.07" y="637.7" width="1.8" height="36.9" fill="#acf5d2" stroke="#76d2a6" stroke-width="0.75"/>
<rect x="854.66" y="642.7" width="1.8" height="31.9" fill="#fdc8c4" stroke="#e9a09b" stroke-width="0.75"/>
<rect x="857.25" y="638.5" width="1.8" height="36.1" fill="#fdc8c4" stroke="#e9a09b" stroke-width="0.75"/>
<rect x="859.83" y="631" width="1.8" height="43.6" fill="#fdc8c4" stroke="#e9a09b" stroke-width="0.75"/>
<rect x="862.41" y="630.2" width="1.8" height="44.4" fill="#acf5d2" stroke="#76d2a6" stroke-width="0.75"/>
<rect x="865.00" y="632.7" width="1.8" height="41.9" fill="#acf5d2" stroke="#76d2a6" stroke-width="0.75"/>
<rect x="867.58" y="634.2" width="1.8" height="40.4" fill="#fdc8c4" stroke="#e9a09b" stroke-width="0.75"/>
<rect x="870.17" y="632.7" width="1.8" height="41.9" fill="#fdc8c4" stroke="#e9a09b" stroke-width="0.75"/>
<rect x="872.75" y="624.3" width="1.8" height="50.3" fill="#e6dcc6" stroke="#c4b79c" stroke-width="0.75"/>
<rect x="875.34" y="622.3" width="1.8" height="52.3" fill="#acf5d2" stroke="#76d2a6" stroke-width="0.75"/>
<rect x="877.92" y="621" width="1.8" height="53.6" fill="#e6dcc6" stroke="#c4b79c" stroke-width="0.75"/>
<rect x="880.51" y="638.5" width="1.8" height="36.1" fill="#acf5d2" stroke="#76d2a6" stroke-width="0.75"/>
<rect x="883.09" y="639.2" width="1.8" height="35.4" fill="#fdc8c4" stroke="#e9a09b" stroke-width="0.75"/>
<rect x="885.68" y="644.2" width="1.8" height="30.4" fill="#acf5d2" stroke="#76d2a6" stroke-width="0.75"/>
<rect x="888.26" y="642.7" width="1.8" height="31.9" fill="#acf5d2" stroke="#76d2a6" stroke-width="0.75"/>
<rect x="890.85" y="640.2" width="1.8" height="34.4" fill="#e6dcc6" stroke="#c4b79c" stroke-width="0.75"/>
<rect x="893.43" y="637.2" width="1.8" height="37.4" fill="#acf5d2" stroke="#76d2a6" stroke-width="0.75"/>
<rect x="896.02" y="645.2" width="1.8" height="29.4" fill="#acf5d2" stroke="#76d2a6" stroke-width="0.75"/>
<rect x="898.60" y="639.2" width="1.8" height="35.4" fill="#acf5d2" stroke="#76d2a6" stroke-width="0.75"/>
<rect x="901.19" y="635.2" width="1.8" height="39.4" fill="#e6dcc6" stroke="#c4b79c" stroke-width="0.75"/>
<rect x="903.77" y="630.2" width="1.8" height="44.4" fill="#fdc8c4" stroke="#e9a09b" stroke-width="0.75"/>
<rect x="906.36" y="623.5" width="1.8" height="51.1" fill="#acf5d2" stroke="#76d2a6" stroke-width="0.75"/>
<rect x="908.95" y="634.2" width="1.8" height="40.4" fill="#e6dcc6" stroke="#c4b79c" stroke-width="0.75"/>
<rect x="911.53" y="641" width="1.8" height="33.6" fill="#acf5d2" stroke="#76d2a6" stroke-width="0.75"/>
<rect x="914.11" y="639.2" width="1.8" height="35.4" fill="#acf5d2" stroke="#76d2a6" stroke-width="0.75"/>
<rect x="916.70" y="648.4" width="1.8" height="26.2" fill="#acf5d2" stroke="#76d2a6" stroke-width="0.75"/>
<rect x="919.28" y="644.2" width="1.8" height="30.4" fill="#acf5d2" stroke="#76d2a6" stroke-width="0.75"/>
<rect x="921.87" y="641" width="1.8" height="33.6" fill="#acf5d2" stroke="#76d2a6" stroke-width="0.75"/>
 </g>
 <line x1="14" y1="674.6" x2="451" y2="674.6" stroke="#c4bcb6" stroke-width="1.6"/>
 <path d="M445,674.6 L450.5,674.6 L460,660.9 L469.9,644.7 L479.9,631 L489.9,619.8 L499.8,607.3 L507.3,601.8 L514.8,603.6 L523.5,606.1 L531,604.1 L542.2,603.6 L549.7,604.8 L558.4,604.8 L567.1,601.8 L574.6,599.8 L587.1,597.3 L597,592.9 L607,589.4 L617,589.4 L627,584.4 L634.4,584.9 L644.4,589.4 L656.9,589.4 L666.8,593.6 L676.8,601.8 L684.3,607.8 L690,610.3 L700,617.3 L709.9,622.3 L719.9,624.3 L729.9,624.8 L737.4,623.5 L744.8,624.3 L749.8,619.8 L757.3,614.8 L767.3,609.3 L774.7,605.3 L782.2,604.3 L794.7,604.8 L802.2,608.6 L812.1,611.8 L822.1,617.8 L834.6,619.3 L844.5,618.5 L854.5,622.3 L864.5,626 L874.4,627.8 L884.4,630.2 L894.4,634.2 L904.4,634.2 L914.3,634.2 L924.3,638.5" fill="none" stroke="rgba(105,105,105,0.7)" stroke-width="1.8"/>
 <!-- axes -->
 <g stroke="#4c4c4c" stroke-width="1.5">
  <line x1="939.5" y1="60" x2="939.5" y2="683.5"/>
  <line x1="14" y1="538.5" x2="996" y2="538.5" stroke-width="1.3"/>
  <line x1="14" y1="683.5" x2="939.5" y2="683.5"/>
 </g>
 <g stroke="#4c4c4c" stroke-width="1.4"><line x1="940" y1="65.8" x2="943.5" y2="65.8"/><line x1="940" y1="96.1" x2="943.5" y2="96.1"/><line x1="940" y1="126.4" x2="943.5" y2="126.4"/><line x1="940" y1="156.7" x2="943.5" y2="156.7"/><line x1="940" y1="186.9" x2="943.5" y2="186.9"/><line x1="940" y1="217.2" x2="943.5" y2="217.2"/><line x1="940" y1="247.5" x2="943.5" y2="247.5"/><line x1="940" y1="277.8" x2="943.5" y2="277.8"/><line x1="940" y1="308.1" x2="943.5" y2="308.1"/><line x1="940" y1="338.4" x2="943.5" y2="338.4"/><line x1="940" y1="368.7" x2="943.5" y2="368.7"/><line x1="940" y1="399" x2="943.5" y2="399"/><line x1="940" y1="429.2" x2="943.5" y2="429.2"/><line x1="940" y1="459.5" x2="943.5" y2="459.5"/><line x1="940" y1="489.8" x2="943.5" y2="489.8"/><line x1="940" y1="520.1" x2="943.5" y2="520.1"/><line x1="940" y1="561.2" x2="943.5" y2="561.2"/><line x1="940" y1="589.5" x2="943.5" y2="589.5"/><line x1="940" y1="618" x2="943.5" y2="618"/><line x1="940" y1="646.5" x2="943.5" y2="646.5"/><line x1="93.3" y1="683" x2="93.3" y2="687"/><line x1="186.3" y1="683" x2="186.3" y2="687"/><line x1="279.3" y1="683" x2="279.3" y2="687"/><line x1="372.3" y1="683" x2="372.3" y2="687"/><line x1="465.3" y1="683" x2="465.3" y2="687"/><line x1="558.3" y1="683" x2="558.3" y2="687"/><line x1="651.3" y1="683" x2="651.3" y2="687"/><line x1="744.3" y1="683" x2="744.3" y2="687"/><line x1="837.3" y1="683" x2="837.3" y2="687"/><line x1="930.3" y1="683" x2="930.3" y2="687"/></g>
</svg>
<div class="pl" style="top:58.8px">64000.00</div>
<div class="pl" style="top:89.1px">60000.00</div>
<div class="pl" style="top:119.4px">56000.00</div>
<div class="pl" style="top:149.7px">52000.00</div>
<div class="pl" style="top:179.9px">48000.00</div>
<div class="pl" style="top:210.2px">44000.00</div>
<div class="pl" style="top:240.5px">40000.00</div>
<div class="pl" style="top:270.8px">36000.00</div>
<div class="pl" style="top:301.1px">32000.00</div>
<div class="pl" style="top:331.4px">28000.00</div>
<div class="pl" style="top:361.7px">24000.00</div>
<div class="pl" style="top:392px">20000.00</div>
<div class="pl" style="top:422.2px">16000.00</div>
<div class="pl" style="top:452.5px">12000.00</div>
<div class="pl" style="top:482.8px">8000.00</div>
<div class="pl" style="top:513.1px">4000.00</div>
<div class="pl" style="top:554.2px">8B</div>
<div class="pl" style="top:582.5px">6B</div>
<div class="pl" style="top:611px">4B</div>
<div class="pl" style="top:639.5px">2B</div>
<div class="yl" style="left:73.3px">1999</div>
<div class="yl" style="left:166.3px">2002</div>
<div class="yl" style="left:259.3px">2005</div>
<div class="yl" style="left:352.3px">2008</div>
<div class="yl" style="left:445.3px">2011</div>
<div class="yl" style="left:538.3px">2014</div>
<div class="yl" style="left:631.3px">2017</div>
<div class="yl" style="left:724.3px">2020</div>
<div class="yl" style="left:817.3px">2023</div><div class="abs" style="left:910px;top:686px;width:29px;overflow:hidden"><div class="yl" style="position:relative;left:0;top:0">2026</div></div>
<!-- last price labels -->
<div class="abs" style="left:940px;top:104px;width:56px;height:16px;background:#3d6bd6;"></div>
<div class="abs" style="left:946px;top:104px;font-size:11px;line-height:16px;color:#fff;font-weight:bold;">57882.40</div>
<div class="abs" style="left:940px;top:631px;width:45px;height:16px;background:#000;"></div>
<div class="abs" style="left:946px;top:631px;font-size:11px;line-height:16px;color:#fff;font-weight:bold;letter-spacing:-0.1px;">2.525B</div>
<div class="abs" style="left:940px;top:666px;width:53px;height:16px;background:#18b87a;"></div>
<div class="abs" style="left:946px;top:666px;font-size:11px;line-height:16px;color:#fff;font-weight:bold;">72.634M</div>

<!-- legend -->
<svg class="abs" style="left:20px;top:72px" width="14" height="14"><rect x="0.6" y="0.6" width="11.8" height="11.8" rx="1.2" fill="none" stroke="#555" stroke-width="1.1"/><line x1="2.2" y1="6.5" x2="10.8" y2="6.5" stroke="#555" stroke-width="1.1"/></svg>
<div class="abs" style="left:39.5px;top:70px;font-size:16px;letter-spacing:0.3px;line-height:19px;color:#4a4a4a;white-space:nowrap;-webkit-text-stroke:0.25px #4a4a4a;">IBEX Total Return, Spain, M, Madrid</div>
<svg class="abs" style="left:311px;top:75px" width="10" height="8"><path d="M1,2 h8 l-4,3.6z" fill="#c8c8c8"/></svg>
<svg class="abs" style="left:330px;top:72px" width="14" height="14"><rect width="14" height="14" fill="#d9d9d9"/><path d="M1.8,7 Q7,-0.5 12.2,7 Q7,14.5 1.8,7 Z" fill="none" stroke="#fff" stroke-width="1.3"/><circle cx="7" cy="7" r="2.2" fill="none" stroke="#fff" stroke-width="1.3"/></svg>
<svg class="abs" style="left:347px;top:72px" width="14" height="14"><rect width="14" height="14" fill="#d9d9d9"/><g transform="translate(7,7)" fill="#fff"><circle r="3.6"/><rect x="-1.3" y="-5.5" width="2.6" height="11"/><rect x="-1.3" y="-5.5" width="2.6" height="11" transform="rotate(45)"/><rect x="-1.3" y="-5.5" width="2.6" height="11" transform="rotate(90)"/><rect x="-1.3" y="-5.5" width="2.6" height="11" transform="rotate(135)"/><circle r="1.6" fill="#d9d9d9"/></g></svg>
<div class="abs" style="left:369px;top:72px;font-size:14px;line-height:17px;white-space:nowrap;color:#4a4a4a;">O<span style="color:#7fb0dc;margin-left:1px">57863.90</span><span style="margin-left:11px">H</span><span style="color:#7fb0dc;margin-left:1px">58241.00</span><span style="margin-left:11px">L</span><span style="color:#7fb0dc;margin-left:1px">57815.00</span><span style="margin-left:11px">C</span><span style="color:#7fb0dc;margin-left:1px">57882.40</span></div>
<div class="abs" style="left:847px;top:75px;width:6px;height:6px;border-radius:50%;background:#999;"></div>
<div class="abs" style="left:857px;top:70px;font-size:11.7px;line-height:15px;color:#999;white-space:nowrap;">Market Closed</div>

<!-- logo -->
<div class="abs" style="left:28px;top:502.7px;font-size:20.4px;line-height:24px;font-weight:bold;color:#111;white-space:nowrap;letter-spacing:0.15px;-webkit-text-stroke:0.3px #111;">Investing<span style="font-size:15px;font-weight:normal;color:#555;letter-spacing:-0.8px;-webkit-text-stroke:0;">.com</span></div>
<div class="abs" style="left:88.6px;top:503.5px;width:4px;height:4px;border-radius:50%;background:#f0a030;"></div>

<!-- volume legend -->
<div class="abs" style="left:20px;top:546px;font-size:11.7px;line-height:15px;color:#4a4a4a;white-space:nowrap;">Volumen (20)</div>
<svg class="abs" style="left:95px;top:551px" width="9" height="6"><path d="M0.5,1 h7 l-3.5,3.5z" fill="#c8c8c8"/></svg>
<svg class="abs" style="left:113px;top:547.5px" width="14" height="14"><rect width="14" height="14" fill="#d9d9d9"/><path d="M1.8,7 Q7,-0.5 12.2,7 Q7,14.5 1.8,7 Z" fill="none" stroke="#fff" stroke-width="1.3"/><circle cx="7" cy="7" r="2.2" fill="none" stroke="#fff" stroke-width="1.3"/></svg>
<svg class="abs" style="left:130px;top:547.5px" width="14" height="14"><rect width="14" height="14" fill="#d9d9d9"/><g transform="translate(7,7)" fill="#fff"><circle r="3.6"/><rect x="-1.3" y="-5.5" width="2.6" height="11"/><rect x="-1.3" y="-5.5" width="2.6" height="11" transform="rotate(45)"/><rect x="-1.3" y="-5.5" width="2.6" height="11" transform="rotate(90)"/><rect x="-1.3" y="-5.5" width="2.6" height="11" transform="rotate(135)"/><circle r="1.6" fill="#d9d9d9"/></g></svg>
<svg class="abs" style="left:147px;top:547.5px" width="14" height="14"><rect width="14" height="14" fill="#d9d9d9"/><path d="M3,3 L11,11 M11,3 L3,11" stroke="#fff" stroke-width="1.6"/></svg>
<div class="abs" style="left:169px;top:546px;font-size:11.7px;line-height:15px;color:#2fba8a;white-space:nowrap;">72.634M</div>
<div class="abs" style="left:223px;top:546px;font-size:11.7px;line-height:15px;color:#222;white-space:nowrap;">2.525B</div>

<!-- bottom bar -->
<div id="bottom"></div>
<div class="bt" style="left:28px;">10y</div>
<div class="sep" style="left:59px;"></div>
<div class="bt" style="left:73px;">1y</div>
<div class="sep" style="left:97px;"></div>
<div class="bt" style="left:111px;">1m</div>
<div class="sep" style="left:139px;"></div>
<div class="bt" style="left:153px;">7d</div>
<div class="sep" style="left:178px;"></div>
<div class="bt" style="left:192px;">1d</div>
<div class="sep" style="left:217px;"></div>
<div class="bt" style="left:230px;">Go to...</div>
<div class="bt" style="left:728.5px;color:#777;font-size:11.3px;"><b>21:00:52</b></div><div class="bt" style="left:779.5px;color:#888;font-size:11px;letter-spacing:-0.5px;">(UTC+1)</div>
<div class="sep" style="left:830px;"></div>
<div class="bt" style="left:843px;">%</div>
<div class="sep" style="left:864px;"></div>
<div class="bt" style="left:878px;">log</div>
<div class="sep" style="left:905px;"></div>
<div class="bt" style="left:919px;color:#6aaed8;">Auto</div>
<div class="sep" style="left:955px;"></div>
<svg class="abs" style="left:0;top:695px" width="1003" height="35"><g transform="translate(975.8,17.7)" fill="#858585"><circle r="4.5"/><rect x="-1.3" y="-6" width="2.6" height="12"/><rect x="-1.3" y="-6" width="2.6" height="12" transform="rotate(45)"/><rect x="-1.3" y="-6" width="2.6" height="12" transform="rotate(90)"/><rect x="-1.3" y="-6" width="2.6" height="12" transform="rotate(135)"/><circle r="2.6" fill="#e3e5e8"/></g></svg>
</body></html>
